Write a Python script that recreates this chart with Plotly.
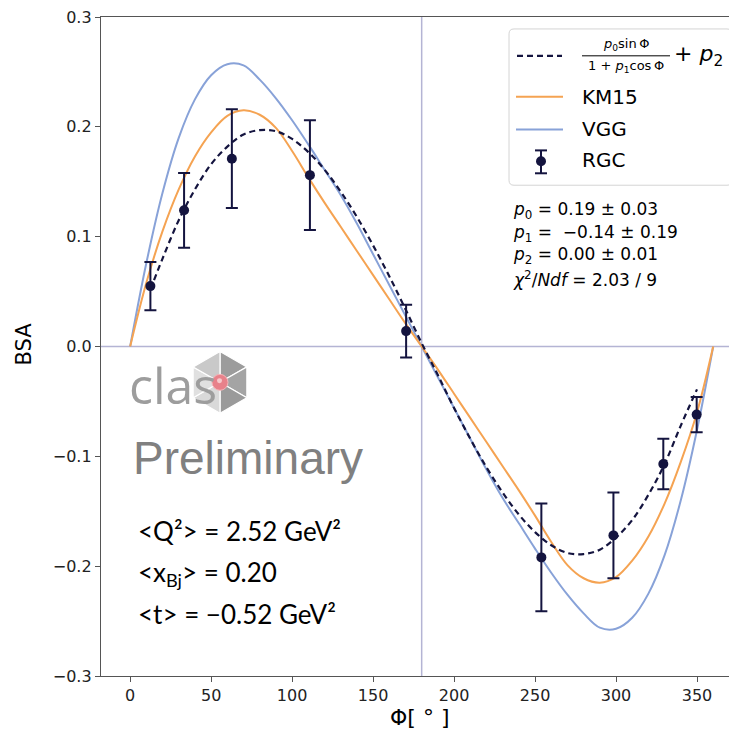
import math
import plotly.graph_objects as go

# ---------------- data ----------------
phi_pts = [12.5, 33.3, 62.8, 111.0, 170.4, 253.9, 298.4, 329.2, 349.8]
bsa_pts = [0.055, 0.124, 0.171, 0.156, 0.014, -0.192, -0.172, -0.107, -0.062]
bsa_err = [0.022, 0.034, 0.045, 0.050, 0.024, 0.049, 0.039, 0.023, 0.016]

model_phi = [0, 10, 20, 30, 40, 50, 60, 70, 80, 90, 100, 110, 120, 130, 140, 150, 160, 170, 180,
             190, 200, 210, 220, 230, 240, 250, 260, 270, 280, 290, 300, 310, 320, 330, 340, 350, 360]
km15 = [0, 0.058, 0.105, 0.143, 0.173, 0.195, 0.210, 0.215, 0.211, 0.199, 0.178, 0.154, 0.131, 0.109, 0.087,
        0.065, 0.043, 0.021, 0,
        -0.021, -0.043, -0.065, -0.087, -0.109, -0.131, -0.154, -0.178, -0.199, -0.211, -0.215, -0.210,
        -0.195, -0.173, -0.143, -0.105, -0.060, 0]
vgg = [0, 0.076, 0.140, 0.190, 0.225, 0.247, 0.257, 0.256, 0.243, 0.226, 0.206, 0.184, 0.161, 0.138, 0.112,
       0.084, 0.056, 0.028, 0,
       -0.028, -0.056, -0.084, -0.112, -0.138, -0.161, -0.184, -0.206, -0.226, -0.243, -0.256, -0.257,
       -0.247, -0.225, -0.190, -0.140, -0.076, 0]

fit_phi = [12.5, 20, 30, 40, 50, 60, 70, 80, 90, 100, 110, 120, 130, 140, 150, 160, 170, 180,
           190, 200, 210, 220, 230, 240, 250, 260, 270, 280, 290, 300, 310, 320, 330, 340, 350]
fit_vals = [0.052, 0.080, 0.115, 0.143, 0.166, 0.182, 0.193, 0.197, 0.196, 0.189, 0.177, 0.161, 0.141, 0.118,
            0.092, 0.064, 0.034, 0.003,
            -0.026, -0.056, -0.084, -0.110, -0.133, -0.153, -0.169, -0.181, -0.188, -0.189, -0.185, -0.174,
            -0.158, -0.135, -0.107, -0.072, -0.039]

x_ticks = [0, 50, 100, 150, 200, 250, 300, 350]
y_ticks = [-0.3, -0.2, -0.1, 0.0, 0.1, 0.2, 0.3]
y_tick_text = ["\u22120.3", "\u22120.2", "\u22120.1", "0.0", "0.1", "0.2", "0.3"]

fit_params = ["<i>p</i><sub>0</sub> = 0.19 \u00b1 0.03",
              "<i>p</i><sub>1</sub> =  \u22120.14 \u00b1 0.19",
              "<i>p</i><sub>2</sub> = 0.00 \u00b1 0.01",
              "<i>\u03c7</i><sup>2</sup>/<i>Ndf</i> = 2.03 / 9"]
kin_text = ["&lt;Q\u00b2&gt; = 2.52 GeV\u00b2",
            "&lt;x<sub>Bj</sub>&gt; = 0.20",
            "&lt;t&gt; = \u22120.52 GeV\u00b2"]
h_ref, v_ref = 0.0, 180.0

# ---------------- styles ----------------
NAVY = "#14143f"
ORANGE = "#f5a352"
BLUE = "#88a2d8"
REF = "#b4b4d4"
AX = "#555555"

OFF = 8                          # page body margin
W, H = 737 - OFF, 736 - OFF
L, R, T, B = 101, 737, 14, 676   # plot area in screen pixels


def px(x):
    return (x - L) / (R - L)


def py(y):
    return (B - y) / (B - T)


fig = go.Figure()

fig.add_trace(go.Scatter(x=model_phi, y=vgg, mode="lines", line=dict(color=BLUE, width=2, shape="spline"),
                         name="VGG", showlegend=False))
fig.add_trace(go.Scatter(x=model_phi, y=km15, mode="lines", line=dict(color=ORANGE, width=2, shape="spline"),
                         name="KM15", showlegend=False))
fig.add_trace(go.Scatter(x=fit_phi, y=fit_vals, mode="lines",
                         line=dict(color=NAVY, width=2.2, dash="6px,4px", shape="spline"),
                         name="fit", showlegend=False))
fig.add_trace(go.Scatter(x=phi_pts, y=bsa_pts, mode="markers",
                         marker=dict(color=NAVY, size=10),
                         error_y=dict(type="data", array=bsa_err, color=NAVY, thickness=2, width=6),
                         name="RGC", showlegend=False))

shapes = []
shapes.append(dict(type="line", xref="paper", x0=0, x1=1, yref="y", y0=h_ref, y1=h_ref,
                   line=dict(color=REF, width=1.5), layer="below"))
shapes.append(dict(type="line", xref="x", x0=v_ref, x1=v_ref, yref="paper", y0=0, y1=1,
                   line=dict(color=REF, width=1.5), layer="below"))

# ---- clas logo (hexagon) ----
cx, cy, rad = 220, 381, 31
verts = []
for a in [90, 30, -30, -90, -150, 150]:
    verts.append((cx + rad * math.cos(math.radians(a)), cy - rad * math.sin(math.radians(a))))
shade = ["#9c9c9c", "#a4a4a4", "#9a9a9a", "#d9d9d9", "#e0e0e0", "#c9c9c9"]
for i in range(6):
    x1, y1 = verts[i]
    x2, y2 = verts[(i + 1) % 6]
    path = "M {:.5f},{:.5f} L {:.5f},{:.5f} L {:.5f},{:.5f} Z".format(px(cx), py(cy), px(x1), py(y1), px(x2), py(y2))
    shapes.append(dict(type="path", xref="paper", yref="paper", path=path,
                       fillcolor=shade[i], line=dict(color="white", width=1.2), layer="above"))
shapes.append(dict(type="circle", xref="paper", yref="paper", x0=px(cx - 8), x1=px(cx + 8), y0=py(cy + 8),
                   y1=py(cy - 8), fillcolor="#e8818a", line=dict(color="#f3b5b9", width=1), layer="above"))
shapes.append(dict(type="circle", xref="paper", yref="paper", x0=px(cx - 3), x1=px(cx + 2), y0=py(cy + 1),
                   y1=py(cy - 4), fillcolor="#f7c9cc", line=dict(width=0), layer="above"))

# ---- manual legend ----
bx0, by0, bx1, by1, rr = 509, 26, 732, 183, 5
p = ("M {a},{b} L {c},{b} Q {e},{b} {e},{f} L {e},{g} Q {e},{h} {c},{h} L {a},{h} Q {i},{h} {i},{g} "
     "L {i},{f} Q {i},{b} {a},{b} Z").format(
    a=px(bx0 + rr), b=py(by0), c=px(bx1 - rr), e=px(bx1), f=py(by0 + rr), g=py(by1 - rr), h=py(by1), i=px(bx0))
shapes.append(dict(type="path", xref="paper", yref="paper", path=p, fillcolor="rgba(255,255,255,0.85)",
                   line=dict(color="#d4d4d4", width=1), layer="above"))
shapes.append(dict(type="line", xref="paper", yref="paper", x0=px(517), x1=px(562), y0=py(53), y1=py(53),
                   line=dict(color=NAVY, width=2.2, dash="6px,4px"), layer="above"))
shapes.append(dict(type="line", xref="paper", yref="paper", x0=px(516), x1=px(563), y0=py(94), y1=py(94),
                   line=dict(color=ORANGE, width=2), layer="above"))
shapes.append(dict(type="line", xref="paper", yref="paper", x0=px(516), x1=px(563), y0=py(127), y1=py(127),
                   line=dict(color=BLUE, width=2), layer="above"))
shapes.append(dict(type="line", xref="paper", yref="paper", x0=px(541), x1=px(541), y0=py(148), y1=py(171),
                   line=dict(color=NAVY, width=2), layer="above"))
for yy in (148, 171):
    shapes.append(dict(type="line", xref="paper", yref="paper", x0=px(535), x1=px(547), y0=py(yy), y1=py(yy),
                       line=dict(color=NAVY, width=2), layer="above"))
shapes.append(dict(type="circle", xref="paper", yref="paper", x0=px(536), x1=px(546), y0=py(164), y1=py(154),
                   fillcolor=NAVY, line=dict(width=0), layer="above"))
shapes.append(dict(type="line", xref="paper", yref="paper", x0=px(582), x1=px(670), y0=py(53), y1=py(53),
                   line=dict(color="black", width=1), layer="above"))

ann = []
FONT = "DejaVu Sans"


def text(x, y, s, size, color="black", family=FONT, xanchor="left", angle=0):
    ann.append(dict(x=px(x), y=py(y), xref="paper", yref="paper", text=s, showarrow=False, textangle=angle,
                    xanchor=xanchor, yanchor="middle", font=dict(family=family, size=size, color=color)))


text(626, 42, "<i>p</i><sub>0</sub>sin\u2009\u03a6", 13, xanchor="center")
text(626, 64, "1 + <i>p</i><sub>1</sub>cos\u2009\u03a6", 13, xanchor="center")
text(672, 53, "+ <i>p</i><sub>2</sub>", 22)
text(580, 94, "KM15", 20)
text(580, 127, "VGG", 20)
text(580, 158, "RGC", 20)

for i, s in enumerate(fit_params):
    text(511, [208, 231, 254, 277][i], s, 17)

text(127, 384, "clas", 50, color="#9d9d9d", family="Open Sans")
text(131, 457, "Preliminary", 46, color="#808080", family="Liberation Sans")

for i, s in enumerate(kin_text):
    text(136, [530, 573, 614][i], s, 26, color="black", family="Lato")

text(24, 343, "BSA", 21, xanchor="center", angle=-90)
text(419, 718, "\u03a6[ \u00b0 ]", 22, xanchor="center")

fig.update_layout(
    width=W, height=H,
    margin=dict(l=L - OFF, r=W - (R - OFF), t=T - OFF, b=H - (B - OFF), pad=0),
    paper_bgcolor="white", plot_bgcolor="white",
    showlegend=False,
    shapes=shapes, annotations=ann,
    xaxis=dict(range=[-18, 374.7], tickvals=x_ticks, ticks="outside", ticklen=5, tickwidth=1.2, tickcolor=AX,
               showline=True, linecolor=AX, linewidth=1.3, mirror=True, showgrid=False, zeroline=False,
               ticklabeloverflow="allow",
               tickfont=dict(family=FONT, size=16, color="#222")),
    yaxis=dict(range=[-0.3, 0.3], tickvals=y_ticks, ticktext=y_tick_text, ticks="outside", ticklen=5,
               tickwidth=1.2, tickcolor=AX, showline=True, linecolor=AX, linewidth=1.3, showgrid=False,
               zeroline=False, ticklabeloverflow="allow",
               tickfont=dict(family=FONT, size=16, color="#222")),
)

fig.write_html("out.html")
